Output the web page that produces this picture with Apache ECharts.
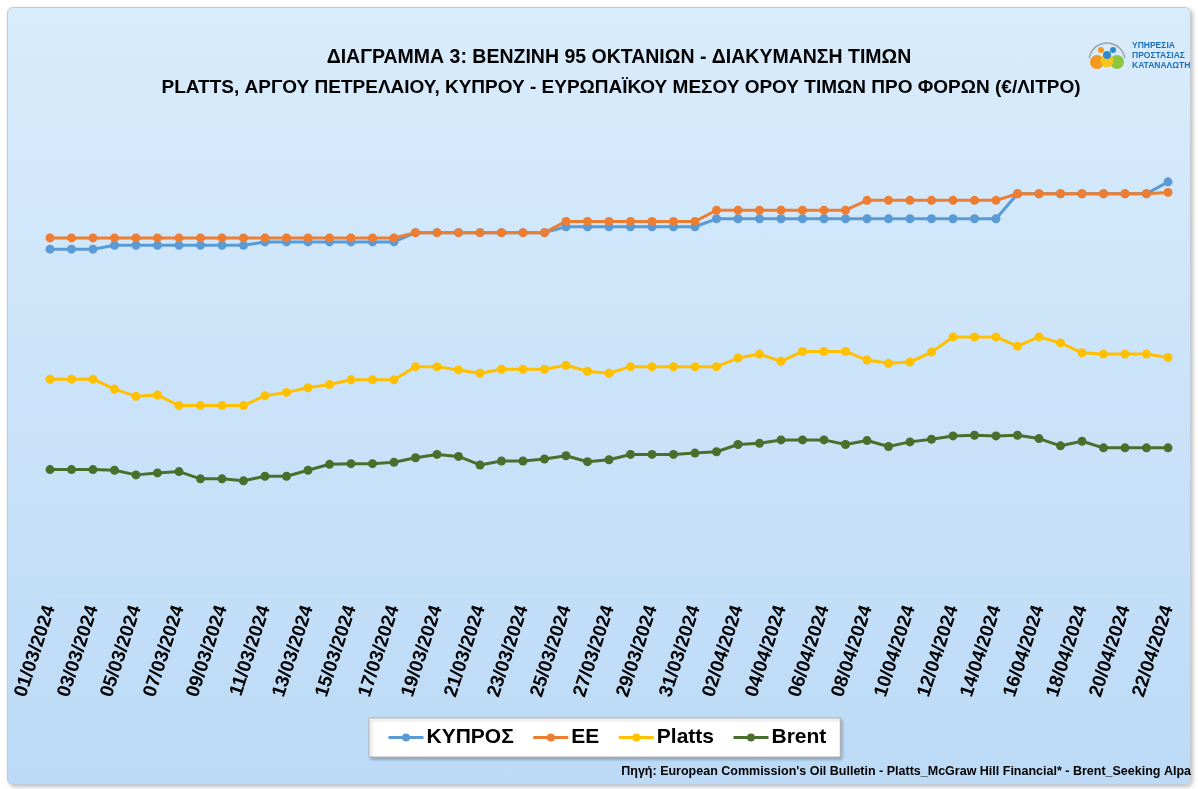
<!DOCTYPE html>
<html>
<head>
<meta charset="utf-8">
<script src="https://cdn.jsdelivr.net/npm/echarts@6/dist/echarts.min.js"></script>
<style>
  html, body { margin: 0; padding: 0; background: #fff; }
  #panel {
    position: absolute; left: 7px; top: 7px; width: 1182px; height: 776px;
    border: 1px solid #c3c9d0; border-radius: 6px;
    background: linear-gradient(#d9ecfc, #bcdaf6);
    box-shadow: 2px 2px 4px rgba(0, 0, 0, 0.25);
  }
  #chart { position: absolute; left: 0; top: 0; width: 1198px; height: 789px; }
</style>
</head>
<body>
<div id="panel"></div>
<div id="chart"></div>
<script>
const dates = [
  '01/03/2024', '02/03/2024', '03/03/2024', '04/03/2024', '05/03/2024', '06/03/2024', '07/03/2024',
  '08/03/2024', '09/03/2024', '10/03/2024', '11/03/2024', '12/03/2024', '13/03/2024', '14/03/2024',
  '15/03/2024', '16/03/2024', '17/03/2024', '18/03/2024', '19/03/2024', '20/03/2024', '21/03/2024',
  '22/03/2024', '23/03/2024', '24/03/2024', '25/03/2024', '26/03/2024', '27/03/2024', '28/03/2024',
  '29/03/2024', '30/03/2024', '31/03/2024', '01/04/2024', '02/04/2024', '03/04/2024', '04/04/2024',
  '05/04/2024', '06/04/2024', '07/04/2024', '08/04/2024', '09/04/2024', '10/04/2024', '11/04/2024',
  '12/04/2024', '13/04/2024', '14/04/2024', '15/04/2024', '16/04/2024', '17/04/2024', '18/04/2024',
  '19/04/2024', '20/04/2024', '21/04/2024', '22/04/2024'
];

// €/λίτρο, εκτίμηση από την εικόνα
const cyprus = [
  0.824, 0.824, 0.824, 0.830, 0.830, 0.830, 0.830, 0.830, 0.830, 0.830,
  0.835, 0.835, 0.835, 0.835, 0.835, 0.835, 0.835, 0.849, 0.849, 0.849,
  0.849, 0.849, 0.849, 0.849, 0.858, 0.858, 0.858, 0.858, 0.858, 0.858,
  0.858, 0.870, 0.870, 0.870, 0.870, 0.870, 0.870, 0.870, 0.870, 0.870,
  0.870, 0.870, 0.870, 0.870, 0.870, 0.908, 0.908, 0.908, 0.908, 0.908,
  0.908, 0.908, 0.926
];
const eu = [
  0.841, 0.841, 0.841, 0.841, 0.841, 0.841, 0.841, 0.841, 0.841, 0.841,
  0.841, 0.841, 0.841, 0.841, 0.841, 0.841, 0.841, 0.849, 0.849, 0.849,
  0.849, 0.849, 0.849, 0.849, 0.866, 0.866, 0.866, 0.866, 0.866, 0.866,
  0.866, 0.883, 0.883, 0.883, 0.883, 0.883, 0.883, 0.883, 0.898, 0.898,
  0.898, 0.898, 0.898, 0.898, 0.898, 0.908, 0.908, 0.908, 0.908, 0.908,
  0.908, 0.908, 0.910
];
const platts = [
  0.627, 0.627, 0.627, 0.612, 0.601, 0.603, 0.587, 0.587, 0.587, 0.587,
  0.602, 0.607, 0.614, 0.619, 0.626, 0.626, 0.626, 0.646, 0.646, 0.641,
  0.636, 0.642, 0.642, 0.642, 0.648, 0.639, 0.636, 0.646, 0.646, 0.646,
  0.646, 0.646, 0.659, 0.665, 0.654, 0.669, 0.669, 0.669, 0.656, 0.651,
  0.653, 0.668, 0.691, 0.691, 0.691, 0.677, 0.691, 0.682, 0.667, 0.665,
  0.665, 0.665, 0.660
];
const brent = [
  0.490, 0.490, 0.490, 0.489, 0.482, 0.485, 0.487, 0.476, 0.476, 0.473,
  0.480, 0.480, 0.489, 0.498, 0.499, 0.499, 0.501, 0.508, 0.513, 0.510,
  0.497, 0.503, 0.503, 0.506, 0.511, 0.502, 0.505, 0.513, 0.513, 0.513,
  0.515, 0.517, 0.528, 0.530, 0.535, 0.535, 0.535, 0.528, 0.534, 0.525,
  0.532, 0.536, 0.541, 0.542, 0.541, 0.542, 0.537, 0.526, 0.533, 0.523,
  0.523, 0.523, 0.523
];

const FONT = 'Liberation Sans';

const makeLine = (name, data, color) => ({
  name,
  type: 'line',
  data,
  symbol: 'circle',
  symbolSize: 9,
  lineStyle: { width: 3, color },
  itemStyle: { color },
  emphasis: { disabled: true }
});

const chart = echarts.init(document.getElementById('chart'));

chart.setOption({
  animation: false,
  backgroundColor: 'transparent',
  grid: { left: 50, right: 30, top: 133, bottom: 194 },
  xAxis: {
    type: 'category',
    data: dates,
    boundaryGap: false,
    axisLine: { lineStyle: { color: '#d6dde5', width: 1 } },
    axisTick: { show: false },
    axisLabel: {
      interval: 1,
      rotate: 72,
      margin: 11,
      color: '#000',
      fontFamily: FONT,
      fontWeight: 'bold',
      fontSize: 19
    }
  },
  yAxis: {
    type: 'value',
    min: 0.3,
    max: 1.0,
    show: false
  },
  legend: {
    bottom: 32,
    left: 369,
    itemWidth: 35,
    itemHeight: 10,
    itemGap: 18,
    padding: [9, 14, 9, 18],
    backgroundColor: '#fff',
    borderColor: '#b0b0b0',
    borderWidth: 1,
    shadowColor: 'rgba(0,0,0,0.25)',
    shadowBlur: 3,
    shadowOffsetX: 2,
    shadowOffsetY: 2,
    lineStyle: { width: 3 },
    textStyle: { fontFamily: FONT, fontWeight: 'bold', fontSize: 21, color: '#000', padding: [0, 0, 0, -2] }
  },
  series: [
    makeLine('ΚΥΠΡΟΣ', cyprus, '#5b9bd5'),
    makeLine('ΕΕ', eu, '#ed7d31'),
    makeLine('Platts', platts, '#ffc000'),
    makeLine('Brent', brent, '#48702c')
  ],
  graphic: [
    {
      type: 'text',
      x: 619, y: 48,
      style: {
        text: 'ΔΙΑΓΡΑΜΜΑ 3: ΒΕΝΖΙΝΗ 95 ΟΚΤΑΝΙΩΝ - ΔΙΑΚΥΜΑΝΣΗ ΤΙΜΩΝ',
        align: 'center',
        fontFamily: FONT, fontWeight: 'bold', fontSize: 19.5, fill: '#000'
      }
    },
    {
      type: 'text',
      x: 621, y: 78,
      style: {
        text: 'PLATTS, ΑΡΓΟΥ ΠΕΤΡΕΛΑΙΟΥ, ΚΥΠΡΟΥ - ΕΥΡΩΠΑΪΚΟΥ ΜΕΣΟΥ ΟΡΟΥ ΤΙΜΩΝ ΠΡΟ ΦΟΡΩΝ (€/ΛΙΤΡΟ)',
        align: 'center',
        fontFamily: FONT, fontWeight: 'bold', fontSize: 19, fill: '#000'
      }
    },
    {
      type: 'text',
      right: 7, top: 765,
      style: {
        text: "Πηγή: European Commission's Oil Bulletin - Platts_McGraw Hill Financial* - Brent_Seeking Alpa",
        fontFamily: FONT, fontWeight: 'bold', fontSize: 12.5, fill: '#000'
      }
    },
    // λογότυπο
    {
      type: 'group',
      children: [
        { type: 'arc', shape: { cx: 1107, cy: 61, r: 18, startAngle: Math.PI * 1.05, endAngle: Math.PI * 1.95 },
          style: { stroke: '#9aa3ab', lineWidth: 1.5, fill: null } },
        { type: 'circle', shape: { cx: 1097, cy: 62, r: 7 }, style: { fill: '#f39a1e' } },
        { type: 'circle', shape: { cx: 1117, cy: 62, r: 7 }, style: { fill: '#8cc63f' } },
        { type: 'circle', shape: { cx: 1107, cy: 61, r: 6.5 }, style: { fill: '#f7c51e' } },
        { type: 'circle', shape: { cx: 1101, cy: 50, r: 3 }, style: { fill: '#f39a1e' } },
        { type: 'circle', shape: { cx: 1113, cy: 50, r: 3 }, style: { fill: '#2e8bd0' } },
        { type: 'circle', shape: { cx: 1107, cy: 55, r: 4 }, style: { fill: '#2e8bd0' } },
        { type: 'text', x: 1132, y: 41, style: { text: 'ΥΠΗΡΕΣΙΑ', fontFamily: FONT, fontWeight: 'bold', fontSize: 8.5, fill: '#1f6fb8' } },
        { type: 'text', x: 1132, y: 51, style: { text: 'ΠΡΟΣΤΑΣΙΑΣ', fontFamily: FONT, fontWeight: 'bold', fontSize: 8.5, fill: '#1f6fb8' } },
        { type: 'text', x: 1132, y: 61, style: { text: 'ΚΑΤΑΝΑΛΩΤΗ', fontFamily: FONT, fontWeight: 'bold', fontSize: 8.5, fill: '#1f6fb8' } }
      ]
    }
  ]
});
</script>
</body>
</html>
